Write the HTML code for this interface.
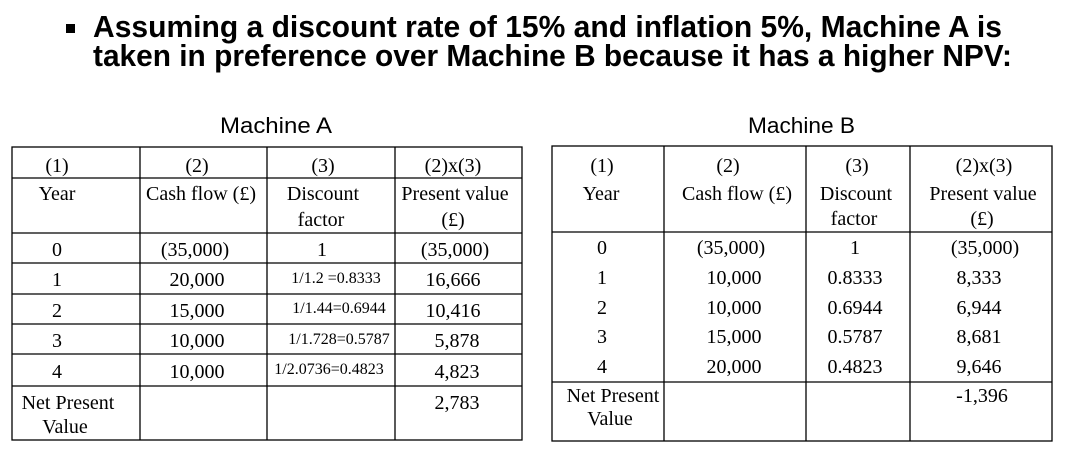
<!DOCTYPE html>
<html><head><meta charset="utf-8"><style>
html,body{margin:0;padding:0;background:#fff;}
svg{display:block;}
.t{font-family:"Liberation Sans Narrow","Liberation Sans",sans-serif;font-weight:bold;font-size:31px;fill:#000;}
.h{font-family:"Liberation Sans Narrow","Liberation Sans",sans-serif;font-size:22px;fill:#000;}
.c{font-family:"Liberation Serif",serif;font-size:20px;fill:#000;text-anchor:middle;}
.s{font-family:"Liberation Serif",serif;font-size:16px;fill:#000;text-anchor:middle;}
line{stroke:#000;stroke-width:1.3;}
</style></head><body>
<svg width="1077" height="459" viewBox="0 0 1077 459">
<rect x="66" y="24" width="9" height="9" fill="#000"/>
<text class="t" x="93" y="37" textLength="909" lengthAdjust="spacingAndGlyphs">Assuming a discount rate of 15% and inflation 5%, Machine A is</text>
<text class="t" x="93" y="66" textLength="919" lengthAdjust="spacingAndGlyphs">taken in preference over Machine B because it has a higher NPV:</text>
<text class="h" x="220" y="133" textLength="112" lengthAdjust="spacingAndGlyphs">Machine A</text>
<text class="h" x="748" y="133" textLength="107" lengthAdjust="spacingAndGlyphs">Machine B</text>

<g>
<rect x="12" y="147" width="510" height="293" fill="none" stroke="#000" stroke-width="1.3"/>
<line x1="140" y1="147" x2="140" y2="440"/><line x1="267" y1="147" x2="267" y2="440"/><line x1="395" y1="147" x2="395" y2="440"/>
<line x1="12" y1="178" x2="522" y2="178"/><line x1="12" y1="233" x2="522" y2="233"/><line x1="12" y1="263" x2="522" y2="263"/>
<line x1="12" y1="294" x2="522" y2="294"/><line x1="12" y1="324" x2="522" y2="324"/><line x1="12" y1="354" x2="522" y2="354"/><line x1="12" y1="386" x2="522" y2="386"/>
<text class="c" x="57" y="172">(1)</text><text class="c" x="197" y="172">(2)</text><text class="c" x="323" y="172">(3)</text><text class="c" x="453" y="172">(2)x(3)</text>
<text class="c" x="57" y="200">Year</text><text class="c" x="201" y="200">Cash flow (£)</text><text class="c" x="323" y="200">Discount</text><text class="c" x="455" y="200">Present value</text>
<text class="c" x="321" y="226">factor</text><text class="c" x="453" y="226">(£)</text>
<text class="c" x="57" y="256">0</text><text class="c" x="195" y="256">(35,000)</text><text class="c" x="322" y="256">1</text><text class="c" x="455" y="256">(35,000)</text>
<text class="c" x="57" y="286">1</text><text class="c" x="197" y="286">20,000</text><text class="s" x="336" y="283">1/1.2 =0.8333</text><text class="c" x="453" y="286">16,666</text>
<text class="c" x="57" y="317">2</text><text class="c" x="197" y="317">15,000</text><text class="s" x="339" y="313">1/1.44=0.6944</text><text class="c" x="453" y="317">10,416</text>
<text class="c" x="57" y="347">3</text><text class="c" x="197" y="347">10,000</text><text class="s" x="339" y="344">1/1.728=0.5787</text><text class="c" x="457" y="347">5,878</text>
<text class="c" x="57" y="378">4</text><text class="c" x="197" y="378">10,000</text><text class="s" x="329" y="374">1/2.0736=0.4823</text><text class="c" x="457" y="378">4,823</text>
<text class="c" x="68" y="409">Net Present</text><text class="c" x="65" y="433">Value</text><text class="c" x="457" y="409">2,783</text>
</g>

<g>
<rect x="552" y="146" width="500" height="295" fill="none" stroke="#000" stroke-width="1.3"/>
<line x1="664" y1="146" x2="664" y2="441"/><line x1="806" y1="146" x2="806" y2="441"/><line x1="910" y1="146" x2="910" y2="441"/>
<line x1="552" y1="232" x2="1052" y2="232"/><line x1="552" y1="382" x2="1052" y2="382"/>
<text class="c" x="602" y="172">(1)</text><text class="c" x="728" y="172">(2)</text><text class="c" x="857" y="172">(3)</text><text class="c" x="984" y="172">(2)x(3)</text>
<text class="c" x="601" y="200">Year</text><text class="c" x="737" y="200">Cash flow (£)</text><text class="c" x="856" y="200">Discount</text><text class="c" x="983" y="200">Present value</text>
<text class="c" x="854" y="225">factor</text><text class="c" x="982" y="225">(£)</text>
<text class="c" x="602" y="254">0</text><text class="c" x="731" y="254">(35,000)</text><text class="c" x="855" y="254">1</text><text class="c" x="985" y="254">(35,000)</text>
<text class="c" x="602" y="284">1</text><text class="c" x="734" y="284">10,000</text><text class="c" x="855" y="284">0.8333</text><text class="c" x="979" y="284">8,333</text>
<text class="c" x="602" y="314">2</text><text class="c" x="734" y="314">10,000</text><text class="c" x="855" y="314">0.6944</text><text class="c" x="979" y="314">6,944</text>
<text class="c" x="602" y="343">3</text><text class="c" x="734" y="343">15,000</text><text class="c" x="855" y="343">0.5787</text><text class="c" x="979" y="343">8,681</text>
<text class="c" x="602" y="373">4</text><text class="c" x="734" y="373">20,000</text><text class="c" x="855" y="373">0.4823</text><text class="c" x="979" y="373">9,646</text>
<text class="c" x="613" y="402">Net Present</text><text class="c" x="610" y="425">Value</text><text class="c" x="982" y="402">-1,396</text>
</g>
</svg>
</body></html>
